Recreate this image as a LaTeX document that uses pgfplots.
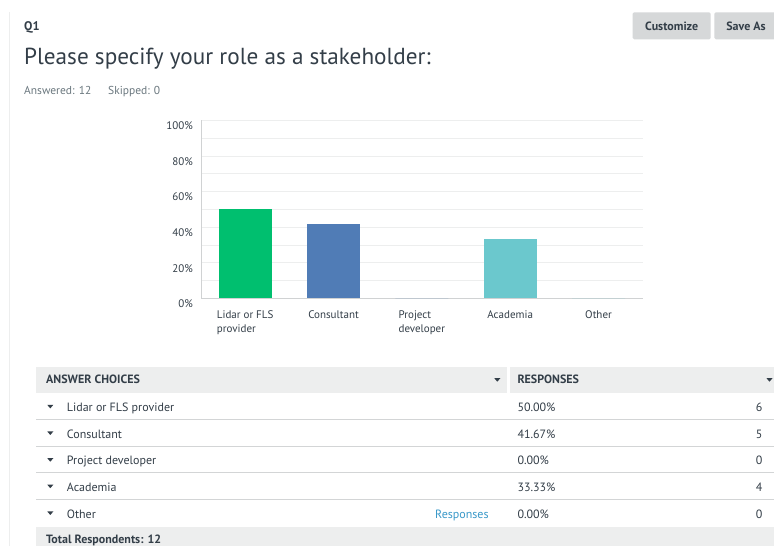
\documentclass[border=0pt]{standalone}
\usepackage{pgfplots}
\pgfplotsset{compat=1.18}
\usepackage{fontspec}
\setmainfont{PT Sans}
\definecolor{tdark}{HTML}{333E48}
\definecolor{tgray}{HTML}{6B787F}
\definecolor{gridc}{HTML}{EDEEEE}
\definecolor{axc}{HTML}{D0D2D3}
\definecolor{hdr}{HTML}{EDEEEE}
\definecolor{btn}{HTML}{D6D8D9}
\definecolor{rowl}{HTML}{D3D5D6}
\definecolor{linkc}{HTML}{3A99C9}
\definecolor{smgreen}{HTML}{00BF6F}
\definecolor{smblue}{HTML}{507CB6}
\definecolor{smteal}{HTML}{6BC8CD}
\newcommand{\fs}[1]{\fontsize{#1pt}{#1pt}\selectfont}
\begin{document}
\begin{tikzpicture}[x=1pt,y=1pt]
\fill[white] (0,0) rectangle (774,546);
\path[use as bounding box] (0,0) rectangle (774,546);
% left rule
\draw[gridc,line width=1pt] (9.5,0) -- (9.5,534);
% header texts
\node[anchor=base west,inner sep=0,text=tdark] at (24,515) {\fs{12.5}\bfseries Q1};
\node[anchor=base west,inner sep=0,text=tdark] at (24,481.7) {\fs{23.2}Please specify your role as a stakeholder:};
\node[anchor=base west,inner sep=0,text=tgray] at (24,451) {\fs{11.5}Answered: 12};
\node[anchor=base west,inner sep=0,text=tgray] at (108,451) {\fs{11.5}Skipped: 0};
% buttons
\fill[btn,rounded corners=1.5pt] (632.7,506.7) rectangle (710.7,533.7);
\fill[btn,rounded corners=1.5pt] (714.3,506.7) rectangle (776,533.7);
\node[text=tdark,inner sep=0] at (671.7,520) {\fs{12}\bfseries Customize};
\node[text=tdark,inner sep=0] at (746,520) {\fs{12}\bfseries Save As};
% chart
\begin{axis}[
  at={(201pt,247.7pt)}, anchor=south west,
  scale only axis, width=441.7pt, height=177.8pt,
  xmin=-0.5, xmax=4.5, ymin=0, ymax=100,
  axis x line*=bottom, axis y line*=left,
  axis line style={draw=axc, line width=1pt},
  xtick={0,1,2,3,4},
  xticklabels={{Lidar or FLS\\provider},{Consultant},{Project\\developer},{Academia},{Other}},
  ytick={0,20,40,60,80,100},
  minor ytick={10,30,50,70,90},
  ymajorgrids, yminorgrids,
  major grid style={draw=gridc, line width=0.8pt},
  minor grid style={draw=gridc, line width=0.8pt},
  major tick length=0pt, minor tick length=0pt,
  /pgf/number format/assume math mode=true,
  yticklabel={\pgfmathprintnumber{\tick}\%},
  yticklabel style={font=\fs{11}, text=tdark, xshift=-4.5pt, yshift=-5.5pt},
  xticklabel style={font=\fontsize{11}{14}\selectfont, text=tdark, align=left, yshift=-9pt},
  clip=false,
]
\addplot[ybar, bar width=0.6, bar shift=0pt, fill=smgreen, draw=none] coordinates {(0,50)};
\addplot[ybar, bar width=0.6, bar shift=0pt, fill=smblue, draw=none] coordinates {(1,41.67)};
\addplot[ybar, bar width=0.6, bar shift=0pt, fill=smblue, draw=none] coordinates {(2,0)};
\addplot[ybar, bar width=0.6, bar shift=0pt, fill=smteal, draw=none] coordinates {(3,33.33)};
\addplot[ybar, bar width=0.6, bar shift=0pt, fill=smteal, draw=none] coordinates {(4,0)};
\end{axis}
% table header
\fill[hdr] (36,152.7) rectangle (507,178.7);
\fill[hdr] (509.5,152.7) rectangle (774,178.7);
\node[anchor=base west,inner sep=0,text=tdark] at (46,162) {\fs{12}\bfseries ANSWER CHOICES};
\node[anchor=base west,inner sep=0,text=tdark] at (517.3,162) {\fs{12}\bfseries RESPONSES};
\fill[tdark] (494.3,167.8) -- (500.3,167.8) -- (497.3,164.3) -- cycle;
\fill[tdark] (766.5,167.8) -- (772.5,167.8) -- (769.5,164.3) -- cycle;
% row lines
\foreach \yy in {126,99.3,73,46} {\draw[rowl,line width=1pt] (36,\yy) -- (774,\yy);}
% rows
\foreach \yc/\lab/\pct/\cnt in {139.3/Lidar or FLS provider/50.00\%/6, 112.7/Consultant/41.67\%/5, 86/Project developer/0.00\%/0, 59.5/Academia/33.33\%/4, 32.7/Other/0.00\%/0} {
  \fill[tdark] (47.3,\yc+1.8) -- (53.3,\yc+1.8) -- (50.3,\yc-1.7) -- cycle;
  \node[anchor=base west,inner sep=0,text=tdark] at (66.7,\yc-5) {\fs{12}\lab};
  \node[anchor=base west,inner sep=0,text=tdark] at (517.3,\yc-5) {\fs{12}\pct};
  \node[anchor=base east,inner sep=0,text=tdark] at (762.7,\yc-5) {\fs{12}\cnt};
}
\node[anchor=base west,inner sep=0,text=linkc] at (435,27.7) {\fs{12}Responses};
% footer
\fill[hdr] (36,0) rectangle (774,19.3);
\node[anchor=base west,inner sep=0,text=tdark] at (46,2.7) {\fs{12}\bfseries Total Respondents: 12};
\end{tikzpicture}
\end{document}
